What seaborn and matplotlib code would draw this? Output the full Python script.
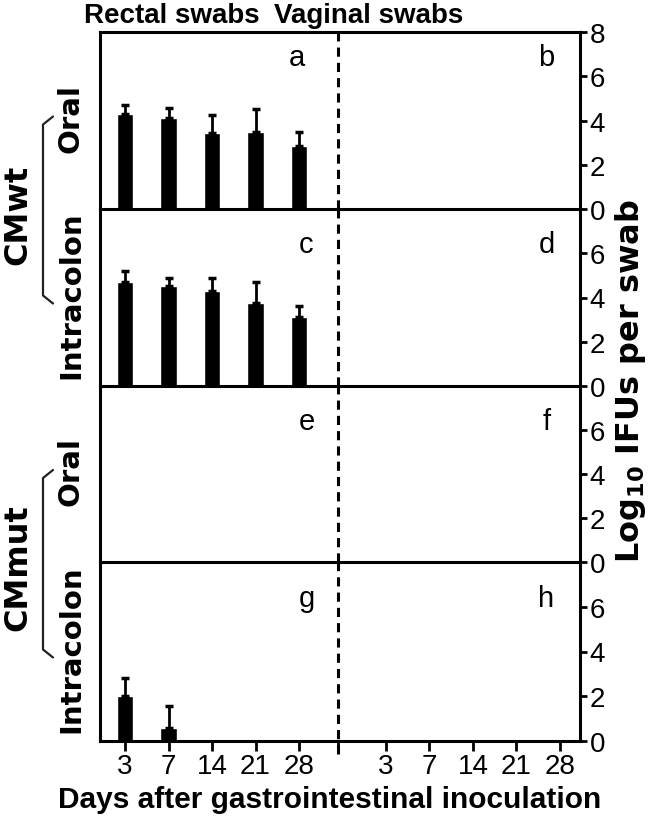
import numpy as np
import pandas as pd
import matplotlib
matplotlib.use('Agg')
import matplotlib.pyplot as plt
from matplotlib.lines import Line2D
import seaborn as sns

# Datos
days = ['3', '7', '14', '21', '28']
rectal_pos = [0, 1, 2, 3, 4]
vaginal_pos = [6, 7, 8, 9, 10]
panel_letters = [('a', 'b'), ('c', 'd'), ('e', 'f'), ('g', 'h')]
route_labels = ['Oral', 'Intracolon', 'Oral', 'Intracolon']
strain_labels = ['CMwt', 'CMmut']

# media y error (solo hacia arriba) por panel
rectal_a = [4.3, 4.1, 3.45, 3.5, 2.85]
rectal_a_err = [0.4, 0.45, 0.8, 1.0, 0.65]
vaginal_b = [0, 0, 0, 0, 0]
rectal_c = [4.7, 4.5, 4.3, 3.75, 3.1]
rectal_c_err = [0.5, 0.4, 0.6, 0.95, 0.5]
vaginal_d = [0.07, 0.0, 0.07, 0.07, 0.07]
rectal_e = [0, 0, 0, 0, 0]
vaginal_f = [0, 0, 0, 0, 0]
rectal_g = [2.0, 0.6, 0, 0, 0]
rectal_g_err = [0.8, 0.95, 0, 0, 0]
vaginal_h = [0, 0, 0, 0, 0]
zero_err = [0, 0, 0, 0, 0]

rows = [
    (rectal_a, rectal_a_err, vaginal_b),
    (rectal_c, rectal_c_err, vaginal_d),
    (rectal_e, zero_err, vaginal_f),
    (rectal_g, rectal_g_err, vaginal_h),
]

sns.set_style('white')
plt.rcParams['font.family'] = ['Liberation Sans', 'DejaVu Sans']
plt.rcParams['text.color'] = 'black'
plt.rcParams['xtick.color'] = 'black'
plt.rcParams['ytick.color'] = 'black'
plt.rcParams['axes.labelcolor'] = 'black'
plt.rcParams['mathtext.fontset'] = 'custom'
plt.rcParams['mathtext.rm'] = 'DejaVu Sans:bold'
plt.rcParams['mathtext.default'] = 'rm'

W, H = 650, 820
fig = plt.figure(figsize=(6.5, 8.2), dpi=100)

left, right = 100, 580
tops = [33, 210, 387, 563, 742]
axes = []
for i, (rv, re, vv) in enumerate(rows):
    top, bot = tops[i], tops[i + 1]
    ax = fig.add_axes([left / W, 1 - bot / H, (right - left) / W, (bot - top) / H])
    ax.patch.set_visible(False)
    axes.append(ax)
    df = pd.DataFrame({'pos': rectal_pos + vaginal_pos, 'val': rv + vv})
    sns.barplot(data=df, x='pos', y='val', order=list(range(11)), color='black',
                width=0.38, saturation=1, errorbar=None, ax=ax)
    # barras de error solo donde hay error
    ex = [p for p, e in zip(rectal_pos, re) if e > 0]
    ey = [v for v, e in zip(rv, re) if e > 0]
    ee = [e for e in re if e > 0]
    if ex:
        ax.errorbar(ex, ey, yerr=[[0] * len(ee), ee], fmt='none', ecolor='black',
                    elinewidth=2, capsize=3, capthick=2.5)
    ax.set_xlim(-0.575, 10.46)
    ax.set_ylim(0, 8)
    ax.yaxis.tick_right()
    ax.set_yticks([0, 2, 4, 6, 8] if i == 0 else [0, 2, 4, 6])
    ax.tick_params(axis='y', which='both', right=True, left=False, direction='out',
                   length=5, width=2, labelsize=20, pad=2)
    ax.set_xlabel('')
    ax.set_ylabel('')
    for side in ['left', 'right', 'bottom', 'top']:
        ax.spines[side].set_color('black')
        ax.spines[side].set_linewidth(2.2)
    ax.spines['top'].set_visible(i == 0)
    if i == 3:
        ax.set_xticks(rectal_pos + [4.9] + vaginal_pos)
        ax.set_xticklabels(days + [''] + days)
        ax.tick_params(axis='x', bottom=True, direction='out', length=7, width=2,
                       labelsize=20, pad=2)
    else:
        ax.set_xticks([])
    ymin = -0.07 if i == 3 else 0
    ax.axvline(4.9, ymin=ymin, ymax=1, color='black', lw=2.2, ls=(0, (3, 2)),
               clip_on=False)
    la, lb = panel_letters[i]
    ly = 0.86 if i == 0 else 0.80
    ax.text(0.41 if i == 0 else 0.43, ly, la, transform=ax.transAxes, fontsize=21,
            ha='center', va='center')
    ax.text(0.93, ly, lb, transform=ax.transAxes, fontsize=21, ha='center', va='center')
    # etiqueta de ruta a la izquierda
    fig.text(71 / W, 1 - ((top + bot) / 2 - 3) / H, route_labels[i], rotation=90,
             fontsize=21, fontweight='bold', family='DejaVu Sans',
             ha='center', va='center')

# etiquetas de cepa y corchetes
for j, name in enumerate(strain_labels):
    y_top = (tops[2 * j] + tops[2 * j + 1]) / 2 + 4
    y_bot = (tops[2 * j + 1] + tops[2 * j + 2]) / 2 - 2
    ymid = tops[2 * j + 1] + 5
    fig.text(18 / W, 1 - ymid / H, name, rotation=90, fontsize=23, fontweight='bold',
             family='DejaVu Sans', ha='center', va='center')
    xs = np.array([53, 43, 43, 53]) / W
    ys = 1 - np.array([y_top - 8, y_top, y_bot, y_bot + 8]) / H
    fig.add_artist(Line2D(xs, ys, color='#222222', lw=1.6))

fig.text(172 / W, 1 - 16 / H, 'Rectal swabs', fontsize=20, fontweight='bold',
         ha='center', va='center')
fig.text(369 / W, 1 - 16 / H, 'Vaginal swabs', fontsize=20, fontweight='bold',
         ha='center', va='center')
fig.text(631 / W, 1 - 381 / H, r'Log$_{10}$ IFUs per swab', rotation=90, fontsize=23,
         fontweight='bold', family='DejaVu Sans', ha='center', va='center')
fig.text(330 / W, 1 - 800 / H, 'Days after gastrointestinal inoculation', fontsize=21.5,
         fontweight='bold', ha='center', va='center')

fig.savefig('out.png', dpi=100)
